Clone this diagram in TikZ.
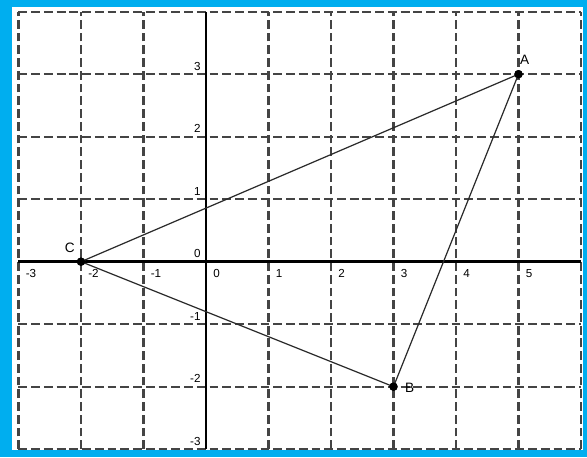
\documentclass[tikz,border=0pt]{standalone}
\usepackage{fontspec}
\setmainfont{Liberation Sans}
\definecolor{frameblue}{HTML}{00AEEF}
\definecolor{gridgray}{HTML}{444444}
\definecolor{edgegray}{HTML}{2A2A2A}
\tikzset{
  gridline/.style={draw=gridgray, line width=1.05pt, dash pattern=on 4pt off 1.8pt},
  axisline/.style={draw=black, line width=1.2pt},
  edgeline/.style={draw=edgegray, line width=0.55pt},
  ptdot/.style={circle, fill=black, inner sep=0pt, minimum size=3.8pt},
  ptlabel/.style={font=\fontsize{6.2}{7}\selectfont, inner sep=0pt},
  xtick/.style={font=\fontsize{5.3}{6}\selectfont, inner sep=0pt, anchor=base west},
  ytick/.style={font=\fontsize{5.3}{6}\selectfont, inner sep=0pt, anchor=base east},
}
\begin{document}
\begin{tikzpicture}[x=1cm,y=1cm]
\useasboundingbox (-3.296,-3.125) rectangle (6.096,4.187);
\fill[white] (-3.296,-3.125) rectangle (6.096,4.187);
% grid
\foreach \i in {-3,...,6} { \draw[gridline] (\i,-3) -- (\i,4); }
\foreach \j in {-3,...,4} { \draw[gridline] (-3,\j) -- (6,\j); }
% axes
\draw[axisline] (-3,0) -- (6,0);
\draw[axisline] (0,-3) -- (0,4);
% tick labels
\foreach \i in {-3,-2,-1,0,1,2,3,4,5} { \node[xtick] (xl\i) at (\i+0.11,-0.25) {\i}; }
\foreach \j in {-3,-2,-1,0,1,2,3} { \node[ytick] (yl\j) at (-0.08,\j+0.065) {\j}; }
% points
\node[ptdot] (A) at (5,3) {};
\node[ptdot] (B) at (3,-2) {};
\node[ptdot] (C) at (-2,0) {};
\draw[edgeline] (A.center) -- (B.center) -- (C.center) -- (A.center);
\node[ptdot] at (A) {};
\node[ptdot] at (B) {};
\node[ptdot] at (C) {};
\node[ptlabel] (lA) at (5.10,3.23) {A};
\node[ptlabel] (lB) at (3.26,-2.02) {B};
\node[ptlabel] (lC) at (-2.18,0.22) {C};
% blue frame
\fill[frameblue] (-3.296,-3.125) rectangle (-3.104,4.187);
\fill[frameblue] (-3.296,4.075) rectangle (6.096,4.187);
\fill[frameblue] (6.032,-3.125) rectangle (6.096,4.187);
\fill[frameblue] (-3.296,-3.125) rectangle (6.096,-3.015);
\end{tikzpicture}
\end{document}
